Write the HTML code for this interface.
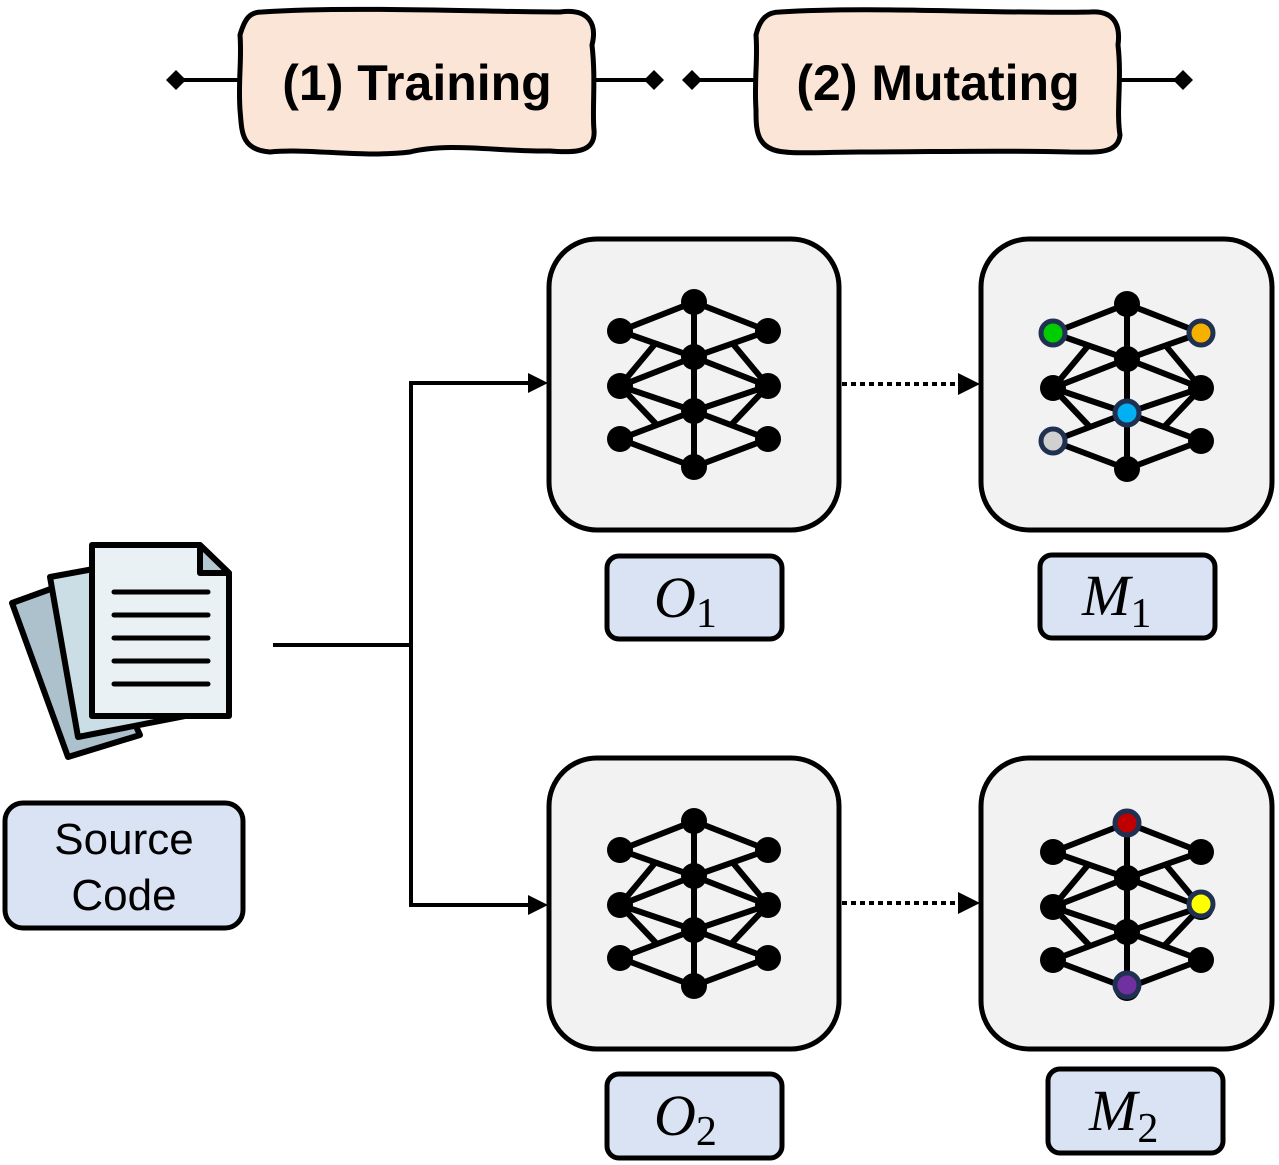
<!DOCTYPE html>
<html><head><meta charset="utf-8"><style>
html,body{margin:0;padding:0;background:#fff;}
svg{display:block;}
</style></head><body>
<svg width="1279" height="1165" viewBox="0 0 1279 1165" xmlns="http://www.w3.org/2000/svg">
<defs>
<g id="net" stroke="#000" stroke-width="6" fill="#000">
  <line x1="0" y1="0" x2="-74" y2="29"/><line x1="0" y1="0" x2="74" y2="29"/>
  <line x1="-74" y1="29" x2="0" y2="55"/><line x1="74" y1="29" x2="0" y2="55"/>
  <line x1="-74" y1="84" x2="0" y2="55"/><line x1="74" y1="84" x2="0" y2="55"/>
  <line x1="-74" y1="84" x2="0" y2="109"/><line x1="74" y1="84" x2="0" y2="109"/>
  <line x1="-74" y1="137" x2="0" y2="109"/><line x1="74" y1="137" x2="0" y2="109"/>
  <line x1="-74" y1="137" x2="0" y2="165"/><line x1="74" y1="137" x2="0" y2="165"/>
  <line x1="0" y1="0" x2="0" y2="165"/>
  <line x1="-74" y1="84" x2="-39" y2="42"/><line x1="74" y1="84" x2="39" y2="42"/>
  <line x1="-74" y1="84" x2="-37" y2="123"/><line x1="74" y1="84" x2="37" y2="123"/>
  <g stroke="none">
  <circle cx="0" cy="0" r="13"/><circle cx="-74" cy="29" r="13"/><circle cx="74" cy="29" r="13"/>
  <circle cx="0" cy="55" r="13"/><circle cx="-74" cy="84" r="13"/><circle cx="74" cy="84" r="13"/>
  <circle cx="0" cy="109" r="13"/><circle cx="-74" cy="137" r="13"/><circle cx="74" cy="137" r="13"/>
  <circle cx="0" cy="165" r="13"/>
  </g>
</g>
</defs>

<g stroke="#000" stroke-width="4" fill="none">
  <line x1="176" y1="80" x2="242" y2="80"/><line x1="592" y1="80" x2="654" y2="80"/>
  <line x1="692" y1="80" x2="757" y2="80"/><line x1="1118" y1="80" x2="1183" y2="80"/>
</g>
<g fill="#000">
  <path d="M166 80 L176 70 L186 80 L176 90Z"/><path d="M644 80 L654 70 L664 80 L654 90Z"/>
  <path d="M682 80 L692 70 L702 80 L692 90Z"/><path d="M1173 80 L1183 70 L1193 80 L1183 90Z"/>
</g>
<path d="M262 12 C350 6 480 12 560 12 C590 8 597 25 592 45 C596 80 592 110 594 130 C596 155 570 152 550 151 C500 152 450 142 410 152 C360 158 310 148 270 152 C240 150 242 130 240 110 C238 80 242 60 240 35 C245 18 250 12 262 12Z" fill="#fbe5d6" stroke="#000" stroke-width="5"/>
<path d="M780 12 C870 6 1000 14 1090 12 C1118 10 1120 30 1118 45 C1122 80 1116 110 1120 135 C1118 155 1095 152 1070 152 C1000 150 930 152 860 152 C830 152 800 154 785 152 C756 150 756 130 756 110 C754 80 758 60 756 35 C760 18 768 12 780 12Z" fill="#fbe5d6" stroke="#000" stroke-width="5"/>
<text x="417" y="100" text-anchor="middle" font-family="Liberation Sans, sans-serif" font-weight="bold" font-size="50">(1) Training</text>
<text x="938" y="100" text-anchor="middle" font-family="Liberation Sans, sans-serif" font-weight="bold" font-size="50">(2) Mutating</text>

<g stroke="#000" stroke-width="4" fill="none">
  <line x1="273" y1="645" x2="412" y2="645"/>
  <line x1="411" y1="383" x2="411" y2="905"/>
  <line x1="409" y1="383" x2="530" y2="383"/>
  <line x1="409" y1="905" x2="530" y2="905"/>
  <line x1="842" y1="384" x2="960" y2="384" stroke-dasharray="5,4"/>
  <line x1="842" y1="903" x2="960" y2="903" stroke-dasharray="5,4"/>
</g>
<g fill="#000">
  <path d="M528 373 L548 383 L528 393Z"/><path d="M528 895 L548 905 L528 915Z"/>
  <path d="M958 373 L980 384 L958 395Z"/><path d="M958 892 L980 903 L958 914Z"/>
</g>

<g fill="#f2f2f2" stroke="#000" stroke-width="5">
  <rect x="549" y="239" width="290" height="291" rx="48"/>
  <rect x="981" y="239" width="291" height="291" rx="48"/>
  <rect x="549" y="758" width="290" height="291" rx="48"/>
  <rect x="981" y="758" width="291" height="291" rx="48"/>
</g>
<use href="#net" x="694" y="302"/>
<use href="#net" x="1127" y="304"/>
<use href="#net" x="694" y="821"/>
<use href="#net" x="1127" y="823"/>
<g stroke="#1f3050" stroke-width="5">
  <circle cx="1053" cy="333" r="12" fill="#00cc00"/>
  <circle cx="1201" cy="333" r="12" fill="#f5b000"/>
  <circle cx="1127" cy="413" r="12" fill="#00b0f0"/>
  <circle cx="1053" cy="441" r="12" fill="#d0d0d0"/>
  <circle cx="1127" cy="823" r="12" fill="#c00000"/>
  <circle cx="1201" cy="904" r="12" fill="#ffff00"/>
  <circle cx="1127" cy="985" r="12" fill="#7030a0"/>
</g>

<g fill="#dae3f3" stroke="#000" stroke-width="5">
  <rect x="607" y="556" width="175" height="83" rx="12"/>
  <rect x="1040" y="555" width="175" height="83" rx="12"/>
  <rect x="607" y="1074" width="175" height="84" rx="12"/>
  <rect x="1048" y="1069" width="175" height="84" rx="12"/>
  <rect x="5" y="803" width="238" height="125" rx="18"/>
</g>
<g font-family="Liberation Serif, serif" font-size="58">
  <text x="654" y="617"><tspan font-style="italic">O</tspan><tspan font-size="42" dy="10">1</tspan></text>
  <text x="1082" y="615"><tspan font-style="italic">M</tspan><tspan font-size="42" dy="12">1</tspan></text>
  <text x="654" y="1135"><tspan font-style="italic">O</tspan><tspan font-size="42" dy="10">2</tspan></text>
  <text x="1089" y="1130"><tspan font-style="italic">M</tspan><tspan font-size="42" dy="12">2</tspan></text>
</g>
<text font-family="Liberation Sans, sans-serif" font-size="44" text-anchor="middle"><tspan x="124" y="854">Source</tspan><tspan x="124" y="910">Code</tspan></text>

<g stroke="#000" stroke-width="6" stroke-linejoin="round">
  <path d="M12 603 L70 582 L140 735 L68 757Z" fill="#adc1cc"/>
  <path d="M50 577 L110 566 L190 715 L78 737Z" fill="#cbdde5"/>
  <path d="M92 545 L200 545 L229 573 L229 716 L92 716Z" fill="#e9f1f4"/>
  <path d="M200 545 L200 573 L229 573Z" fill="#b4c8d2"/>
</g>
<g stroke="#000" stroke-width="5" stroke-linecap="round">
  <line x1="114" y1="592" x2="208" y2="592"/><line x1="114" y1="615" x2="208" y2="615"/>
  <line x1="114" y1="638" x2="208" y2="638"/><line x1="114" y1="661" x2="208" y2="661"/>
  <line x1="114" y1="684" x2="208" y2="684"/>
</g>
</svg>
</body></html>
